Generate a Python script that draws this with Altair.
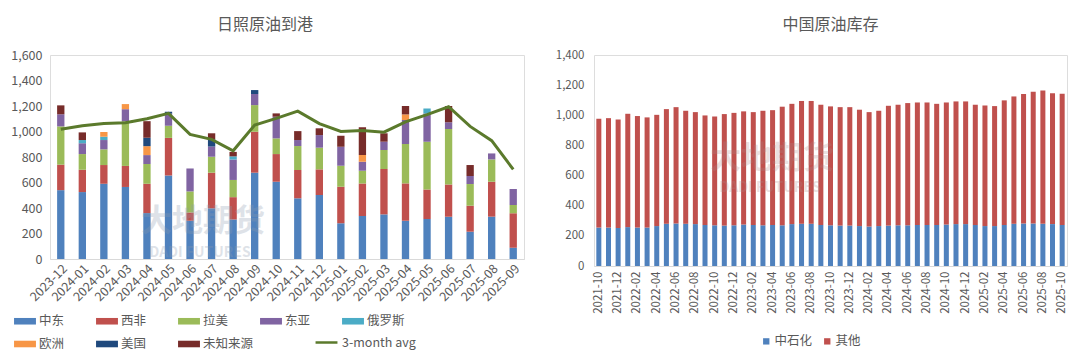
import altair as alt
import pandas as pd

FONT = "Noto Sans CJK SC"
TXT = "#595959"

# ---------------- Left chart: 日照原油到港 ----------------
arrival_months = ["2023-12", "2024-01", "2024-02", "2024-03", "2024-04", "2024-05",
                  "2024-06", "2024-07", "2024-08", "2024-09", "2024-10", "2024-11",
                  "2024-12", "2025-01", "2025-02", "2025-03", "2025-04", "2025-05",
                  "2025-06", "2025-07", "2025-08", "2025-09"]
mideast = [540, 525, 590, 565, 360, 655, 300, 397, 310, 677, 606, 476, 502, 280, 337, 350, 300, 314, 332, 214, 332, 89]
w_africa = [200, 175, 147, 165, 230, 295, 65, 280, 175, 321, 217, 222, 201, 287, 256, 356, 293, 232, 253, 204, 274, 269]
latam = [300, 123, 123, 350, 155, 95, 165, 125, 135, 209, 123, 188, 170, 164, 99, 149, 309, 374, 434, 170, 175, 65]
e_asia = [95, 85, 73, 95, 70, 95, 180, 80, 160, 87, 170, 47, 99, 150, 71, 65, 188, 222, 53, 63, 47, 126]
russia = [0, 25, 26, 0, 0, 0, 0, 0, 25, 0, 0, 0, 0, 0, 0, 0, 0, 39, 0, 0, 0, 0]
europe = [0, 0, 37, 40, 70, 0, 0, 0, 0, 0, 0, 0, 0, 0, 52, 0, 44, 0, 0, 0, 0, 0]
usa = [0, 0, 0, 0, 66, 15, 0, 57, 0, 31, 0, 0, 0, 0, 0, 0, 0, 0, 0, 0, 0, 0]
unknown = [70, 60, 0, 0, 130, 0, 0, 47, 35, 0, 26, 70, 53, 86, 218, 66, 66, 0, 128, 86, 0, 0]
avg_3m = [1017, 1045, 1062, 1068, 1100, 1142, 977, 938, 849, 1051, 1103, 1160,
          1062, 1000, 1008, 995, 1076, 1132, 1194, 1040, 928, 703]

region_names = ["中东", "西非", "拉美", "东亚", "俄罗斯", "欧洲", "美国", "未知来源"]
region_series = [mideast, w_africa, latam, e_asia, russia, europe, usa, unknown]
region_colors = ["#4F81BD", "#C0504D", "#9BBB59", "#8064A2", "#4BACC6", "#F79646", "#1F497D", "#772C2A"]
avg_name = "3-month avg"
avg_color = "#5B7A2C"
left_ticks = [0, 200, 400, 600, 800, 1000, 1200, 1400, 1600]

# ---------------- Right chart: 中国原油库存 ----------------
stock_months = []
for yr in range(2021, 2026):
    for mo in range(1, 13):
        s = f"{yr}-{mo:02d}"
        if "2021-10" <= s <= "2025-10":
            stock_months.append(s)
sinopec = [255, 255, 252, 258, 255, 255, 265, 280, 282, 280, 278, 272, 270, 268, 270, 275,
           272, 270, 272, 270, 278, 280, 280, 272, 270, 268, 268, 265, 262, 265, 268, 270,
           270, 272, 272, 272, 275, 278, 278, 272, 265, 265, 272, 280, 282, 282, 280, 278, 272]
others = [722, 726, 720, 752, 740, 731, 738, 761, 772, 750, 743, 727, 722, 740, 746, 751,
          749, 760, 762, 787, 798, 815, 815, 798, 789, 786, 786, 772, 759, 765, 795, 800,
          811, 813, 813, 804, 810, 814, 814, 798, 800, 796, 827, 845, 859, 874, 885, 869, 871]
stock_names = ["中石化", "其他"]
stock_colors = ["#4F81BD", "#C0504D"]
right_ticks = [0, 200, 400, 600, 800, 1000, 1200, 1400]
right_label_months = stock_months[::2]

# ---------------- build tables ----------------
rows = []
for k, (name, vals) in enumerate(zip(region_names, region_series)):
    for m, v in zip(arrival_months, vals):
        if v > 0:
            rows.append({"month": m, "region": name, "value": v, "ord": k})
left_df = pd.DataFrame(rows)
avg_df = pd.DataFrame({"month": arrival_months, "series": avg_name, "value": avg_3m})

rows = []
for k, (name, vals) in enumerate(zip(stock_names, [sinopec, others])):
    for m, v in zip(stock_months, vals):
        rows.append({"month": m, "kind": name, "value": v, "ord": k})
right_df = pd.DataFrame(rows)

# ---------------- left chart ----------------
x_left = alt.X("month:N", sort=arrival_months,
               scale=alt.Scale(paddingInner=0.66, paddingOuter=0.33),
               axis=alt.Axis(title=None, labelAngle=-45, labelAlign="right", labelBaseline="top",
                             ticks=False, domainColor="#D9D9D9", labelColor=TXT,
                             labelFontSize=12.5, labelPadding=3, labelFont=FONT))
y_left_axis = alt.Axis(title=None, values=left_ticks, format=",d", grid=False, domain=False,
                       ticks=False, labelColor=TXT, labelFontSize=12.5, labelPadding=8,
                       labelFont=FONT, labelOverlap=False)
y_left_scale = alt.Scale(domain=[0, 1600])

bars_left = alt.Chart(left_df).mark_bar().encode(
    x=x_left,
    y=alt.Y("value:Q", stack="zero", scale=y_left_scale, axis=y_left_axis),
    color=alt.Color("region:N", scale=alt.Scale(domain=region_names, range=region_colors),
                    legend=alt.Legend(
                        orient="none", legendX=-36, legendY=255, direction="horizontal", columns=5,
                        title=None, symbolType="M-1,-0.3H1V0.3H-1Z", symbolSize=480,
                        symbolStrokeWidth=0, labelFont=FONT, labelFontSize=12.5, labelColor=TXT,
                        gridAlign="all", columnPadding=6, rowPadding=5, labelOffset=3,
                        labelLimit=80)),
    order=alt.Order("ord:Q", sort="ascending"),
)
line_left = alt.Chart(avg_df).mark_line(strokeWidth=3).encode(
    x=x_left,
    y=alt.Y("value:Q", scale=y_left_scale, axis=y_left_axis),
    stroke=alt.Stroke("series:N", scale=alt.Scale(domain=[avg_name], range=[avg_color]),
                      legend=alt.Legend(orient="none", legendX=264, legendY=275, title=None,
                                        symbolType="stroke", symbolSize=480, symbolStrokeWidth=2.5,
                                        labelFont=FONT, labelFontSize=12.5, labelColor=TXT,
                                        labelOffset=3)),
)
wm_left_cn = alt.Chart(pd.DataFrame({"t": ["大地期货"]})).mark_text(
    font=FONT, fontSize=31, fontWeight="bold", color="#8C9BAE", opacity=0.28
).encode(text="t:N", x=alt.value(153), y=alt.value(167))
wm_left_en = alt.Chart(pd.DataFrame({"t": ["DADI FUTURES"]})).mark_text(
    font=FONT, fontSize=14, fontWeight="bold", color="#8C9BAE", opacity=0.28
).encode(text="t:N", x=alt.value(150), y=alt.value(198))

left = alt.layer(bars_left, line_left, wm_left_cn, wm_left_en).properties(
    width=474, height=204,
    title=alt.TitleParams("日照原油到港", font=FONT, fontSize=16, fontWeight="normal",
                          color=TXT, anchor="middle", offset=16, dx=-22),
)

# ---------------- right chart ----------------
x_right = alt.X("month:N", sort=stock_months,
                scale=alt.Scale(paddingInner=0.48, paddingOuter=0.24),
                axis=alt.Axis(title=None, labelAngle=-90, labelAlign="right", labelBaseline="middle",
                              values=right_label_months, ticks=False, domainColor="#D9D9D9",
                              labelColor=TXT, labelFontSize=11.5, labelPadding=5, labelFont=FONT))
bars_right = alt.Chart(right_df).mark_bar().encode(
    x=x_right,
    y=alt.Y("value:Q", stack="zero", scale=alt.Scale(domain=[0, 1400]),
            axis=alt.Axis(title=None, values=right_ticks, format=",d", grid=False, domain=False,
                          ticks=False, labelColor=TXT, labelFontSize=11.5, labelPadding=10,
                          labelFont=FONT, labelOverlap=False)),
    color=alt.Color("kind:N", scale=alt.Scale(domain=stock_names, range=stock_colors),
                    legend=alt.Legend(orient="none", legendX=166, legendY=280, direction="horizontal",
                                      title=None, symbolType="square", symbolSize=40,
                                      symbolStrokeWidth=0, labelFont=FONT, labelFontSize=12.5,
                                      labelColor=TXT, columnPadding=8, labelOffset=2)),
    order=alt.Order("ord:Q", sort="ascending"),
)
wm_right_cn = alt.Chart(pd.DataFrame({"t": ["大地期货"]})).mark_text(
    font=FONT, fontSize=31, fontWeight="bold", color="#B08A8A", opacity=0.25
).encode(text="t:N", x=alt.value(178), y=alt.value(104))
wm_right_en = alt.Chart(pd.DataFrame({"t": ["DADI FUTURES"]})).mark_text(
    font=FONT, fontSize=14, fontWeight="bold", color="#B08A8A", opacity=0.25
).encode(text="t:N", x=alt.value(176), y=alt.value(133))

right = alt.layer(bars_right, wm_right_cn, wm_right_en).properties(
    width=473, height=211,
    title=alt.TitleParams("中国原油库存", font=FONT, fontSize=16, fontWeight="normal",
                          color=TXT, anchor="middle", offset=16),
)

chart = alt.hconcat(left, right, spacing=29).properties(
    padding={"left": 2, "top": 8, "right": 2, "bottom": 0}
).resolve_scale(color="independent").configure_view(stroke=None).configure(font=FONT)

chart.save("out.html", embed_options={"renderer": "svg", "actions": False})
